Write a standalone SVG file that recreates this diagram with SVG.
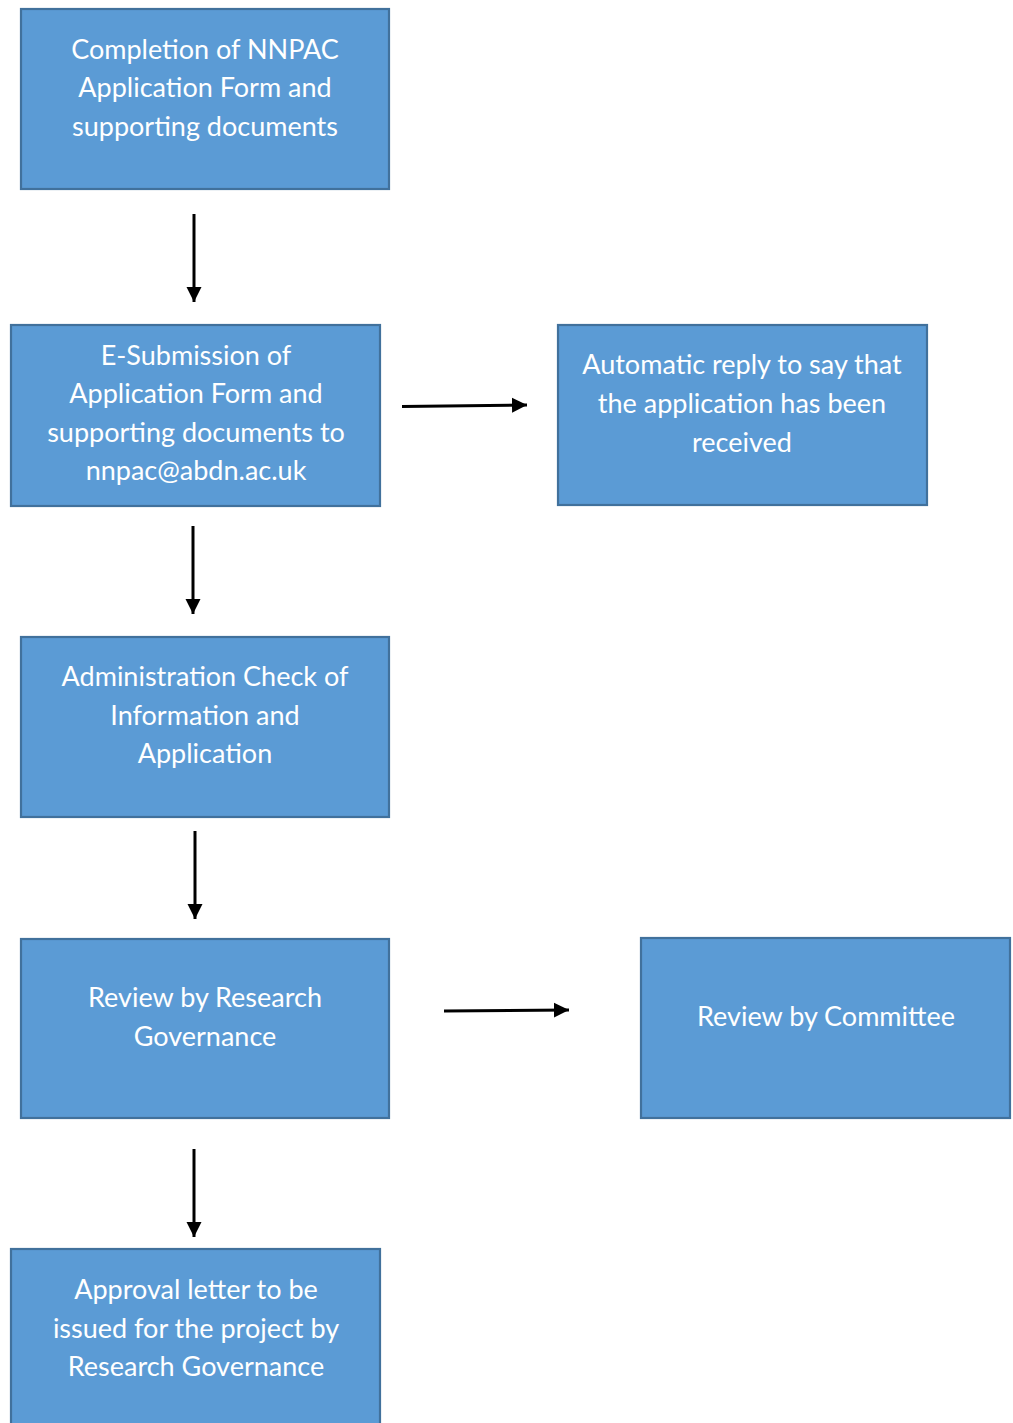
<svg xmlns="http://www.w3.org/2000/svg" width="1013" height="1423" viewBox="0 0 1013 1423">
<style>
.box{fill:#5B9BD5;stroke:#41719C;stroke-width:2.2}
.t{font-family:Lato,"Open Sans","Liberation Sans",sans-serif;font-size:27px;fill:#ffffff;text-anchor:middle}
.c{stroke:#000;stroke-width:3;fill:none;marker-end:url(#ah)}
</style>
<defs>
<marker id="ah" markerUnits="userSpaceOnUse" markerWidth="16" markerHeight="16" refX="15" refY="8" orient="auto">
<path d="M0,0.5 L15,8 L0,15.5 Z" fill="#000"/>
</marker>
</defs>
<rect width="1013" height="1423" fill="#fff"/>
<g id="n1"><rect class="box" x="21" y="9" width="368" height="180"/>
<text class="t" x="205" y="59">Completion of NNPAC</text>
<text class="t" x="205" y="97">Application Form and</text>
<text class="t" x="205" y="136">supporting documents</text></g>
<g id="n2"><rect class="box" x="11" y="325" width="369" height="181"/>
<text class="t" x="196" y="365">E-Submission of</text>
<text class="t" x="196" y="403">Application Form and</text>
<text class="t" x="196" y="442">supporting documents to</text>
<text class="t" x="196" y="480">nnpac@abdn.ac.uk</text></g>
<g id="n3"><rect class="box" x="558" y="325" width="369" height="180"/>
<text class="t" x="742" y="374">Automatic reply to say that</text>
<text class="t" x="742" y="413">the application has been</text>
<text class="t" x="742" y="452">received</text></g>
<g id="n4"><rect class="box" x="21" y="637" width="368" height="180"/>
<text class="t" x="205" y="686">Administration Check of</text>
<text class="t" x="205" y="725">Information and</text>
<text class="t" x="205" y="763">Application</text></g>
<g id="n5"><rect class="box" x="21" y="939" width="368" height="179"/>
<text class="t" x="205" y="1007">Review by Research</text>
<text class="t" x="205" y="1046">Governance</text></g>
<g id="n6"><rect class="box" x="641" y="938" width="369" height="180"/>
<text class="t" x="826" y="1026">Review by Committee</text></g>
<g id="n7"><rect class="box" x="11" y="1249" width="369" height="190"/>
<text class="t" x="196" y="1299">Approval letter to be</text>
<text class="t" x="196" y="1338">issued for the project by</text>
<text class="t" x="196" y="1376">Research Governance</text></g>
<g id="connectors">
<path class="c" d="M194,214 L194,302"/>
<path class="c" d="M193,526 L193,614"/>
<path class="c" d="M402,406.5 L527,405"/>
<path class="c" d="M195,831 L195,919"/>
<path class="c" d="M444,1011 L569,1010"/>
<path class="c" d="M194,1149 L194,1237"/>
</g>
</svg>
